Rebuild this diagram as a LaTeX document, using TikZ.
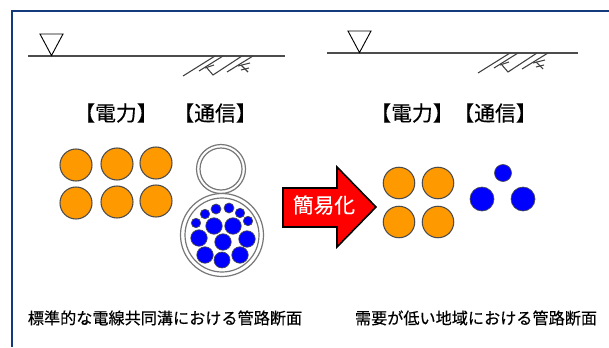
\documentclass[tikz,border=0pt]{standalone}
\usepackage{fontspec}
\setmainfont{Noto Sans CJK JP}[FakeBold=0.35]
\definecolor{framecol}{HTML}{123A7C}
\definecolor{powercol}{HTML}{FF9900}
\definecolor{ringcol}{HTML}{777777}
\begin{document}
\begin{tikzpicture}[
    x=0.75pt, y=-0.75pt,
    dot/.style = {circle, draw, minimum size=#1*0.75pt,
                inner sep=0pt, outer sep=0pt},
    dot/.default = 32,  % diameter in pixels of the reference
    power/.style = {dot=#1, fill=powercol, draw=black!70, line width=0.8pt},
    comm/.style = {dot=#1, fill=blue, draw=black!70, line width=0.5pt},
    ring/.style = {dot=#1, fill=white, draw=ringcol, line width=0.9pt},
    head/.style = {font=\fontsize{15.6}{15.6}\selectfont, inner sep=0pt},
    caption/.style = {font=\fontsize{12.1}{12.1}\selectfont, inner sep=0pt},
    soil/.style = {black!75, line width=0.8pt}
                    ]
        \useasboundingbox (0,0) rectangle (609,347);
        \fill[white] (0,0) rectangle (609,347);
        \draw[framecol,line width=1.6pt] (12,347) -- (12,11) -- (609,11);
        % ground, level mark and hatching
        \foreach \dx/\dy/\l/\r/\t in {0/0/28/285/0, 295/-3/32/283/13}{
            \begin{scope}[shift={(\dx,\dy)}]
                \draw[black!70,line width=1pt] (\l,56) -- (\r,56);
                \draw[line width=0.7pt] (40+\t,34) -- (63+\t,34) -- (51.5+\t,55.5) -- cycle;
                \draw[soil] (183,76) -- (215,56);
                \draw[soil] (199,71) -- (223,56);
                \draw[soil] (207,68) -- (213,75) -- (242,56);
                \draw[soil] (227,72) -- (253,56);
                \draw[soil] (205,68) -- (214,65);
                \draw[soil] (241,65) -- (248,72);
                \draw[soil] (238,66) -- (250,63);
                \draw[soil] (241,70) -- (249,68);
            \end{scope}
        }
        \node[head] at (116,113) (powerA) {【電力】};
        \node[head] at (215,113) (commA) {【通信】};
        \node[head] at (412,113) (powerB) {【電力】};
        \node[head] at (495,113) (commB) {【通信】};
        % standard section
        \foreach \x/\y/\v in {76/165/a, 117/164/b, 156/163/c, 76/203/d, 117/202/e, 156/201/f}
            \node[power=32] at (\x,\y) (p\v) {};
        \node[ring=49] at (221,169) (ductA) {};
        \node[ring=42] at (221,169) (ductB) {};
        \node[ring=83] at (222,235) (ductC) {};
        \node[ring=74] at (222,235) (ductD) {};
        \foreach \x/\y/\s/\v in {196/223/9.5/a, 205/214/9.5/b, 216/209/10/c, 229/208/10/d,
                240/213/9.5/e, 248/221/9.5/f, 214/226/16.5/g, 233/226/16.5/h, 199/238/16.5/i,
                223/242/16.5/j, 247/239/16.5/k, 205/255/16.5/l, 222/260/16/m, 240/255/16.5/n}
            \node[comm=\s] at (\x,\y) (c\v) {};
        % arrow
        \draw[fill=red,draw=black,line width=1.2pt,line join=miter]
            (283,188) -- (337,188) -- (337,167) -- (376,207) -- (337,247) -- (337,227) -- (283,227) -- cycle;
        \node[head,text=white,font=\fontsize{15.5}{15.5}\selectfont] at (324,205) (easy) {簡易化};
        % simplified section
        \foreach \x/\y/\v in {399/183/a, 438/183/b, 399/222/c, 438/222/d}
            \node[power=31.5] at (\x,\y) (q\v) {};
        \foreach \x/\y/\s/\v in {503/173/17/a, 482/199/24/b, 523/199/24/c}
            \node[comm=\s] at (\x,\y) (s\v) {};
        \node[caption] at (165,318) (capA) {標準的な電線共同溝における管路断面};
        \node[caption] at (476,318) (capB) {需要が低い地域における管路断面};
\end{tikzpicture}
\end{document}
